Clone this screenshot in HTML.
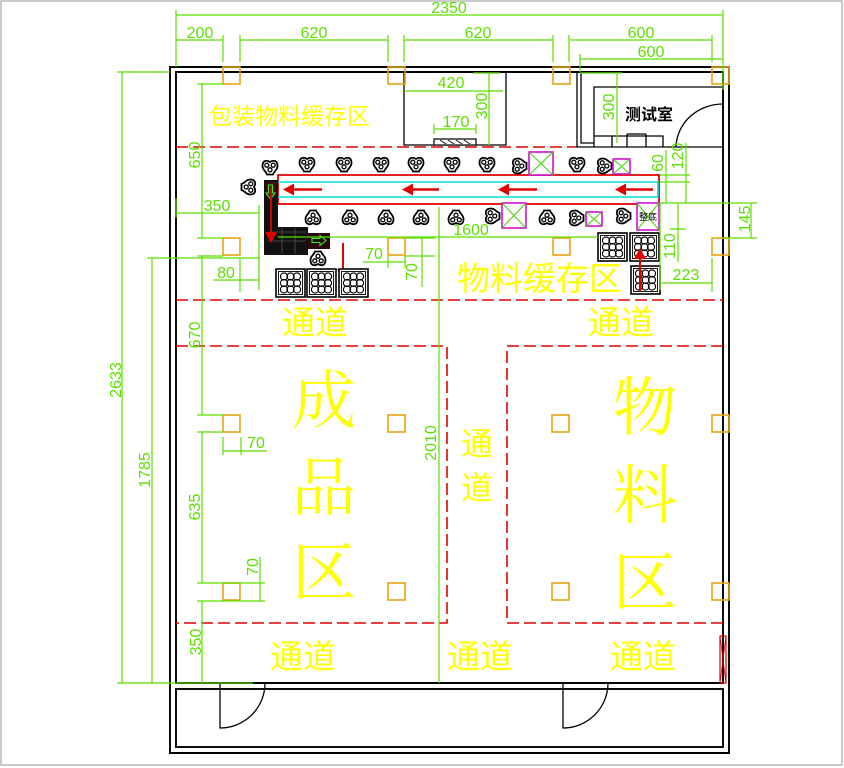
<!DOCTYPE html>
<html><head><meta charset="utf-8">
<style>
html,body{margin:0;padding:0;background:#fff;}
svg{display:block;}
.g{stroke:#5ce000;stroke-width:1.2;fill:none}
.gt{fill:#5ce000;font-family:"Liberation Sans",sans-serif;font-size:16px;text-anchor:middle}
.w{stroke:#000;stroke-width:1.9;fill:none}
.k{stroke:#000;stroke-width:1.3;fill:none}
.rd{stroke:#e00000;stroke-width:1.6;fill:none;stroke-dasharray:12 5}
.col{stroke:#e6a315;stroke-width:1.6;fill:none}
.ys{fill:#ffff00;font-family:"Liberation Sans","Noto Sans CJK SC",sans-serif}
.yb{fill:#ffff00;font-family:"Liberation Serif","Noto Serif CJK SC",serif;font-size:64px;text-anchor:middle}
.mg{stroke:#d010d0;stroke-width:1.6;fill:#fff}
.mx{stroke:#40d000;stroke-width:1}
</style></head><body>
<svg width="844" height="768" viewBox="0 0 844 768" xmlns="http://www.w3.org/2000/svg">
<defs>
  <g id="ic">
    <path d="M-7.5,-2 C-7.5,-8 -3,-8 0,-6 C3,-8 7.5,-8 7.5,-2 C7.5,2 4,3 3,6.5 L-3,6.5 C-4,3 -7.5,2 -7.5,-2 Z" fill="#fff" stroke="#000" stroke-width="1.8"/>
    <circle cx="-3.2" cy="-2.8" r="2" fill="none" stroke="#000" stroke-width="1.3"/>
    <circle cx="3.2" cy="-2.8" r="2" fill="none" stroke="#000" stroke-width="1.3"/>
    <circle cx="0" cy="1.8" r="2" fill="none" stroke="#000" stroke-width="1.3"/>
  </g>
  <g id="pl">
    <rect x="0" y="0" width="29" height="28" fill="#fff" stroke="#000" stroke-width="1.6"/>
    <rect x="2.5" y="2.5" width="24" height="23" fill="none" stroke="#000" stroke-width="0.9"/>
    <g fill="none" stroke="#000" stroke-width="1.1">
      <circle cx="8" cy="7.5" r="3.6"/><circle cx="14.5" cy="7.5" r="3.6"/><circle cx="21" cy="7.5" r="3.6"/>
      <circle cx="8" cy="14" r="3.6"/><circle cx="14.5" cy="14" r="3.6"/><circle cx="21" cy="14" r="3.6"/>
      <circle cx="8" cy="20.5" r="3.6"/><circle cx="14.5" cy="20.5" r="3.6"/><circle cx="21" cy="20.5" r="3.6"/>
    </g>
  </g>
</defs>

<rect x="1" y="1" width="841" height="764" fill="none" stroke="#a8a8a8" stroke-width="1.2"/>

<!-- walls -->
<path class="w" d="M170,67 H729 V753 H170 Z"/>
<path class="w" d="M176,72 H723 V683 H176 Z"/>
<rect class="w" x="176" y="689" width="547" height="58"/>

<!-- doors bottom -->
<path class="k" d="M220,683 V728 A45,45 0 0 0 265,683"/>
<path class="k" d="M563,683 V728 A45,45 0 0 0 608,683"/>

<!-- red dashed zones -->
<path class="rd" d="M176,147 H577"/>
<path class="rd" d="M176,300 H723"/>
<path class="rd" d="M176,346 H447 V623 H176"/>
<path class="rd" d="M723,346 H507 V623 H723"/>

<!-- top middle box -->
<path class="k" d="M404,72 V145 H506 V72"/>
<rect x="434" y="139" width="42" height="6" fill="#fff" stroke="#000" stroke-width="1.2"/>
<path d="M440,140 L446,144 M448,140 L454,144 M456,140 L462,144 M464,140 L470,144" stroke="#000" stroke-width="0.8"/>

<!-- test room -->
<path class="k" d="M577,72 V147 H723"/>
<path class="k" d="M581,72 V143 H594"/>
<path class="k" d="M594,147 V87 H723"/>
<path class="k" d="M594,136 H663 V147 M612,136 V147 M627,134 V147 M646,134 V147 M627,134 H646"/>
<path class="k" d="M676,147 A47,44 0 0 1 723,104"/>
<text x="649" y="120" font-family="Liberation Sans,'Noto Sans CJK SC',sans-serif" font-size="16" font-weight="bold" text-anchor="middle" fill="#000">测试室</text>

<!-- columns -->
<g class="col">
<rect x="223" y="67" width="17" height="17"/><rect x="388" y="67" width="17" height="17"/><rect x="553" y="67" width="17" height="17"/><rect x="712" y="67" width="17" height="17"/>
<rect x="223" y="238" width="17" height="17"/><rect x="388" y="238" width="17" height="17"/><rect x="553" y="238" width="17" height="17"/><rect x="712" y="238" width="17" height="17"/>
<rect x="223" y="415" width="17" height="17"/><rect x="388" y="415" width="17" height="17"/><rect x="552" y="415" width="17" height="17"/><rect x="712" y="415" width="17" height="17"/>
<rect x="223" y="583" width="17" height="17"/><rect x="388" y="583" width="17" height="17"/><rect x="552" y="583" width="17" height="17"/><rect x="712" y="583" width="17" height="17"/>
</g>

<!-- conveyor -->
<path d="M278,175 H659 V204 H278 Z" stroke="#e00000" stroke-width="1.8" fill="none"/>
<path d="M278,182 H658 V197 H278" stroke="#00dede" stroke-width="1.6" fill="none"/>
<g stroke="#e00000" stroke-width="2.6" fill="#e00000">
<path d="M322,189.5 H290"/><polygon points="283,189.5 294,183.5 294,195.5" stroke="none"/>
<path d="M439,189.5 H409"/><polygon points="402,189.5 413,183.5 413,195.5" stroke="none"/>
<path d="M537,189.5 H505"/><polygon points="498,189.5 509,183.5 509,195.5" stroke="none"/>
<path d="M653,189.5 H622"/><polygon points="615,189.5 626,183.5 626,195.5" stroke="none"/>
</g>

<!-- icons top row -->
<use href="#ic" transform="translate(270,168)"/>
<use href="#ic" transform="translate(307,165)"/>
<use href="#ic" transform="translate(344,165)"/>
<use href="#ic" transform="translate(381,165)"/>
<use href="#ic" transform="translate(416,165)"/>
<use href="#ic" transform="translate(452,165)"/>
<use href="#ic" transform="translate(487,165)"/>
<use href="#ic" transform="translate(520,166) rotate(-90)"/>
<use href="#ic" transform="translate(577,165)"/>
<use href="#ic" transform="translate(605,166) rotate(-90)"/>
<use href="#ic" transform="translate(248,187) rotate(90)"/>
<!-- icons bottom row -->
<use href="#ic" transform="translate(313,217) scale(1,-1)"/>
<use href="#ic" transform="translate(350,217) scale(1,-1)"/>
<use href="#ic" transform="translate(386,217) scale(1,-1)"/>
<use href="#ic" transform="translate(421,217) scale(1,-1)"/>
<use href="#ic" transform="translate(456,217) scale(1,-1)"/>
<use href="#ic" transform="translate(493,216) rotate(-90)"/>
<use href="#ic" transform="translate(547,217) scale(1,-1)"/>
<use href="#ic" transform="translate(577,218) rotate(-90)"/>
<use href="#ic" transform="translate(624,216) rotate(-90)"/>
<use href="#ic" transform="translate(318,258) scale(1,-1)"/>

<!-- magenta boxes -->
<g>
<rect class="mg" x="529" y="152" width="24" height="23"/><path class="mx" d="M529,152 L553,175 M553,152 L529,175"/>
<rect class="mg" x="613" y="159" width="17" height="15"/><path class="mx" d="M613,159 L630,174 M630,159 L613,174"/>
<rect class="mg" x="502" y="203" width="24" height="25"/><path class="mx" d="M502,203 L526,228 M526,203 L502,228"/>
<rect class="mg" x="586" y="212" width="16" height="14"/><path class="mx" d="M586,212 L602,226 M602,212 L586,226"/>
<rect class="mg" x="637" y="203" width="22" height="27"/><path class="mx" d="M637,203 L659,230 M659,203 L637,230"/>
<text x="648" y="220" font-family="Liberation Sans,'Noto Sans CJK SC',sans-serif" font-size="9" text-anchor="middle" fill="#000">整底</text>
</g>

<!-- machine -->
<rect x="264" y="180" width="14" height="75" fill="#111"/>
<rect x="266" y="182" width="10" height="14" fill="#4a0a0a"/>
<path d="M268.5,185 h4 v8 h2.5 l-4.5,6 l-4.5,-6 h2.5 z" fill="none" stroke="#33ee33" stroke-width="1.1"/>
<rect x="264" y="227" width="44" height="28" fill="#111"/>
<path d="M268,232 H306 M268,241 H306 M282,228 V254 M295,228 V254" stroke="#555" stroke-width="0.8"/>
<rect x="308" y="233" width="22" height="16" fill="#2a0808"/>
<path d="M312,238.5 h8 v-3 l6,5 l-6,5 v-3 h-8 z" fill="none" stroke="#33ee33" stroke-width="1.1"/>
<path d="M271,187 V233" stroke="#e00000" stroke-width="1.8"/>
<polygon points="265,232 277,232 271,243" fill="#e00000"/>
<path d="M343,243 V271" stroke="#e00000" stroke-width="2"/>
<polygon points="337,269 349,269 343,281" fill="#e00000"/>

<!-- pallets -->
<use href="#pl" transform="translate(276,269)"/>
<use href="#pl" transform="translate(307,269)"/>
<use href="#pl" transform="translate(339,269)"/>
<use href="#pl" transform="translate(598,233)"/>
<use href="#pl" transform="translate(630,233)"/>
<use href="#pl" transform="translate(631,266)"/>
<path d="M640,291 V258" stroke="#e00000" stroke-width="2"/>
<polygon points="634,259 646,259 640,248" fill="#e00000"/>

<!-- red marker right -->
<rect x="720" y="636" width="6" height="47" fill="none" stroke="#e00000" stroke-width="1.2"/>
<path d="M720,636 L726,683 M726,636 L720,683" stroke="#e00000" stroke-width="0.8"/>

<!-- dimension lines -->
<path class="g" d="M176,15 H723 M176,10 V67 M723,10 V90
M176,40 H223 M223,35 V62 M240,35 V62 M240,40 H388 M388,35 V62 M404,35 V62 M404,40 H553 M553,35 V62 M569,35 V62 M570,40 H712 M712,35 V62 M580,54 V72 M580,59 H723
M404,91 H503 M473,73 H500 M489,73 V145 M434,129 H476 M434,124 V134 M476,124 V134
M580,73 H622 M617,73 V143
M117,72 H170 M122,72 V683 M147,258 H260 M152,258 V683 M117,683 H253
M197,84 H223 M202,84 V238 M197,238 H223 M197,256 H223 M202,256 V415 M197,415 H223 M197,432 H223 M202,432 V583 M197,583 H223 M197,601 H223 M202,601 V683
M176,213 H259 M259,205 V290 M213,280 H259 M240,258 V292 M176,198 V218
M363,262 H405 M388,256 V268 M405,256 V268 M405,238 H435 M405,256 H435 M422,238 V287
M223,451 H267 M223,437 V455 M241,437 V455 M260,557 V601 M223,583 H265 M223,601 H265
M439,207 V683 M278,237 H598
M666,150 V203 M686,143 V203 M660,175 H690 M660,182 H690 M660,203 H757 M751,203 V238 M723,238 H757
M678,203 V262 M670,229 H686 M660,203 V290 M660,283 H712 M712,258 V292"/>

<!-- dimension text -->
<text class="gt" x="449" y="13">2350</text>
<text class="gt" x="200" y="38">200</text>
<text class="gt" x="314" y="38">620</text>
<text class="gt" x="478" y="38">620</text>
<text class="gt" x="641" y="38">600</text>
<text class="gt" x="651" y="57">600</text>
<text class="gt" x="451" y="88">420</text>
<text class="gt" transform="translate(481,106) rotate(-90)" dy="6">300</text>
<text class="gt" x="456" y="127">170</text>
<text class="gt" transform="translate(608,107) rotate(-90)" dy="6">300</text>
<text class="gt" transform="translate(115,380) rotate(-90)" dy="6">2633</text>
<text class="gt" transform="translate(144,470) rotate(-90)" dy="6">1785</text>
<text class="gt" transform="translate(194,155) rotate(-90)" dy="6">650</text>
<text class="gt" transform="translate(194,335) rotate(-90)" dy="6">670</text>
<text class="gt" transform="translate(194,507) rotate(-90)" dy="6">635</text>
<text class="gt" transform="translate(195,642) rotate(-90)" dy="6">350</text>
<text class="gt" x="217" y="211">350</text>
<text class="gt" x="226" y="278">80</text>
<text class="gt" x="374" y="259">70</text>
<text class="gt" transform="translate(411,272) rotate(-90)" dy="6">70</text>
<text class="gt" x="256" y="448">70</text>
<text class="gt" transform="translate(252,567) rotate(-90)" dy="6">70</text>
<text class="gt" transform="translate(430,443) rotate(-90)" dy="6">2010</text>
<text class="gt" x="471" y="235">1600</text>
<text class="gt" transform="translate(657,163) rotate(-90)" dy="6">60</text>
<text class="gt" transform="translate(677,156) rotate(-90)" dy="6">120</text>
<text class="gt" transform="translate(744,219) rotate(-90)" dy="6">145</text>
<text class="gt" transform="translate(669,246) rotate(-90)" dy="6">110</text>
<text class="gt" x="686" y="280">223</text>

<!-- zone labels -->
<text class="ys" x="209" y="124" font-size="23">包装物料缓存区</text>
<text class="ys" x="457" y="290" font-size="33">物料缓存区</text>
<text class="ys" x="315" y="334" font-size="33" text-anchor="middle">通道</text>
<text class="ys" x="621" y="334" font-size="33" text-anchor="middle">通道</text>
<text class="ys" x="477" y="455" font-size="32" text-anchor="middle">通</text>
<text class="ys" x="477" y="499" font-size="32" text-anchor="middle">道</text>
<text class="ys" x="303" y="668" font-size="33" text-anchor="middle">通道</text>
<text class="ys" x="480" y="668" font-size="33" text-anchor="middle">通道</text>
<text class="ys" x="643" y="668" font-size="33" text-anchor="middle">通道</text>

<text class="yb" x="324" y="423">成</text>
<text class="yb" x="324" y="510">品</text>
<text class="yb" x="324" y="595">区</text>
<text class="yb" x="645" y="430">物</text>
<text class="yb" x="645" y="518">料</text>
<text class="yb" x="645" y="605">区</text>
</svg>
</body></html>
